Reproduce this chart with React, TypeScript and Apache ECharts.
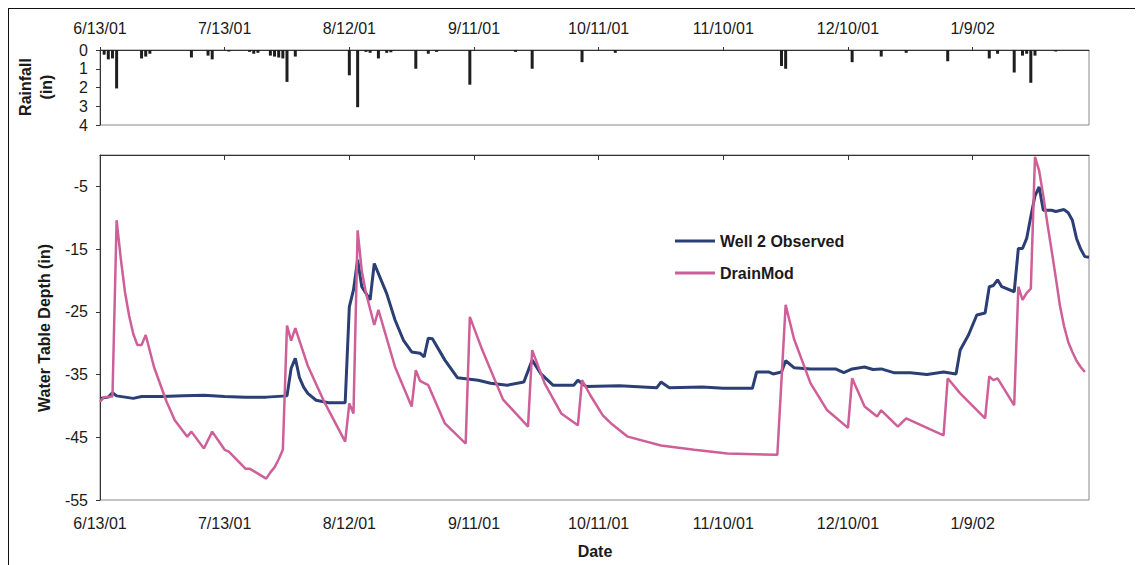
import React, { useEffect, useRef } from "react";
import * as echarts from "echarts";

// Days counted from 6/13/01
const dateTickDays = [0, 30, 60, 90, 120, 150, 180, 210];
const dateTickLabels = ["6/13/01", "7/13/01", "8/12/01", "9/11/01", "10/11/01", "11/10/01", "12/10/01", "1/9/02"];
const depthTicks = [-55, -45, -35, -25, -15, -5];
const rainTicks = [0, 1, 2, 3, 4];

// Daily rainfall (in) as [day, depth]
const rainfall: [number, number][] = [
  [1, 0.25], [2, 0.5], [3, 0.45], [4, 2.05], [10, 0.45], [11, 0.35], [12, 0.2],
  [22, 0.4], [26, 0.3], [27, 0.5], [31, 0.08], [36, 0.1], [37, 0.2], [38, 0.15],
  [41, 0.3], [42, 0.35], [43, 0.4], [44, 0.45], [45, 1.7], [47, 0.35],
  [60, 1.35], [62, 3.05], [64, 0.1], [65, 0.15], [67, 0.45], [69, 0.15], [70, 0.12],
  [76, 1.0], [79, 0.2], [81, 0.1], [89, 1.85], [100, 0.1], [104, 1.0], [116, 0.65],
  [124, 0.15], [164, 0.85], [165, 1.0], [181, 0.65], [188, 0.35], [194, 0.15],
  [204, 0.6], [214, 0.45], [216, 0.2], [220, 1.2], [222, 0.3], [223, 0.2],
  [224, 1.75], [225, 0.3], [230, 0.08],
];

// Observed water table depth (in), Well 2
const wellObserved: [number, number][] = [
  [0, -38.8], [2, -38.6], [3, -37.9], [4, -38.4], [6, -38.6], [8, -38.8], [10, -38.5],
  [15, -38.5], [20, -38.4], [25, -38.3], [30, -38.5], [35, -38.6], [40, -38.6], [45, -38.4],
  [46, -34.0], [47, -32.4], [48, -35.5], [49, -37.0], [50, -38.0], [52, -39.1], [55, -39.5],
  [59, -39.5], [60, -24.2], [61, -21.5], [62, -16.7], [63, -21.0], [65, -23.1], [66, -17.3],
  [69, -22.1], [71, -26.3], [73, -29.5], [75, -31.4], [77, -31.6], [78, -32.2], [79, -29.2],
  [80, -29.3], [83, -32.7], [86, -35.5], [91, -35.9], [94, -36.4], [98, -36.7], [102, -36.2],
  [104, -32.7], [106, -34.8], [109, -36.7], [114, -36.7], [115, -35.9], [117, -36.9],
  [125, -36.8], [134, -37.1], [135, -36.2], [137, -37.1], [145, -37.0], [150, -37.2],
  [157, -37.2], [158, -34.6], [161, -34.6], [162, -34.9], [164, -34.6], [165, -32.8],
  [167, -33.9], [171, -34.1], [177, -34.1], [179, -34.7], [181, -34.1], [184, -33.8],
  [186, -34.2], [188, -34.1], [191, -34.7], [195, -34.7], [199, -35.0], [203, -34.6],
  [206, -34.9], [207, -31.1], [209, -28.7], [210, -27.1], [211, -25.5], [213, -25.2],
  [214, -21.0], [215, -20.8], [216, -19.9], [217, -21.0], [220, -21.8], [221, -14.9],
  [222, -14.9], [223, -13.3], [224, -9.8], [225, -6.5], [226, -5.1], [227, -8.8],
  [229, -8.8], [230, -9.0], [232, -8.7], [233, -9.2], [234, -10.4], [235, -13.3],
  [236, -15.0], [237, -16.2], [238, -16.3],
];

// DrainMod simulated water table depth (in)
const drainMod: [number, number][] = [
  [0, -39.3], [1, -38.6], [3, -38.5], [4, -10.4], [5, -16.5], [6, -21.8], [7, -25.6],
  [8, -28.5], [9, -30.3], [10, -30.3], [11, -28.7], [13, -33.8], [16, -39.3], [18, -42.3],
  [21, -44.9], [22, -44.1], [25, -46.8], [27, -44.1], [30, -47.0], [31, -47.3], [35, -50.0],
  [36, -50.0], [40, -51.6], [41, -50.6], [42, -49.8], [43, -48.5], [44, -47.0], [45, -27.2],
  [46, -29.6], [47, -27.6], [50, -33.6], [54, -39.4], [59, -45.7], [60, -39.6], [61, -41.2],
  [62, -12.0], [63, -18.5], [64, -22.0], [66, -27.1], [67, -24.7], [71, -33.8], [75, -40.1],
  [76, -34.3], [77, -36.0], [79, -36.7], [83, -42.8], [88, -46.0], [89, -25.8], [92, -31.1],
  [97, -39.0], [103, -43.3], [104, -31.1], [107, -36.4], [111, -41.2], [115, -43.1],
  [116, -35.9], [118, -38.3], [121, -41.5], [123, -42.8], [127, -44.9], [135, -46.3],
  [143, -47.0], [151, -47.6], [163, -47.8], [165, -23.9], [167, -29.3], [171, -36.4],
  [175, -40.7], [180, -43.5], [181, -35.6], [184, -40.1], [187, -41.7], [188, -40.7],
  [192, -43.3], [194, -42.0], [203, -44.7], [204, -35.6], [207, -38.0], [213, -42.0],
  [214, -35.3], [215, -35.9], [216, -35.6], [220, -39.9], [221, -21.0], [222, -23.1],
  [223, -22.0], [224, -21.3], [225, -0.3], [226, -2.5], [227, -6.5], [228, -11.0],
  [229, -15.2], [230, -19.5], [231, -24.0], [232, -27.3], [233, -29.8], [234, -31.4],
  [235, -32.8], [236, -33.8], [237, -34.6],
];

const FONT = "'Liberation Sans', Arial, sans-serif";
const TEXT = "#1a1a1a";
const AXIS = "#333";
const BORDER = "#8a8a8a";
const BLUE = "#2b3f74";
const PINK = "#cf5f98";

const dateLabel = (v: number) => {
  const i = dateTickDays.indexOf(v);
  return i >= 0 ? dateTickLabels[i] : "";
};

export default function App() {
  const ref = useRef<HTMLDivElement>(null);

  useEffect(() => {
    if (!ref.current) return;
    const chart = echarts.init(ref.current, null, { renderer: "svg" });
    const tickLabel = { color: TEXT, fontFamily: FONT, fontSize: 16 };

    chart.setOption({
      animation: false,
      backgroundColor: "#fff",
      grid: [
        { left: 91, top: 41, width: 989, height: 75, show: true, borderColor: BORDER, borderWidth: 1 },
        { left: 91, top: 146, width: 989, height: 345, show: true, borderColor: BORDER, borderWidth: 1 },
      ],
      xAxis: [
        {
          gridIndex: 0, type: "value", position: "top", min: 0, max: 238,
          axisLine: { show: true, lineStyle: { color: AXIS, width: 1 } },
          axisTick: { show: true, length: 3, customValues: dateTickDays, lineStyle: { color: AXIS } },
          axisLabel: { ...tickLabel, margin: 14, customValues: dateTickDays, formatter: dateLabel },
          splitLine: { show: false },
        },
        {
          gridIndex: 1, type: "value", position: "bottom", min: 0, max: 238,
          axisLine: { show: true, lineStyle: { color: AXIS, width: 1 } },
          axisTick: { show: true, length: 5, customValues: dateTickDays, lineStyle: { color: AXIS } },
          axisLabel: { ...tickLabel, margin: 15, customValues: dateTickDays, formatter: dateLabel },
          splitLine: { show: false },
        },
      ],
      yAxis: [
        {
          gridIndex: 0, type: "value", inverse: true, min: 0, max: 4, interval: 1,
          axisLine: { show: true, lineStyle: { color: AXIS, width: 1 } },
          axisTick: { show: true, length: 4, lineStyle: { color: AXIS } },
          axisLabel: { ...tickLabel, margin: 12, customValues: rainTicks },
          splitLine: { show: false },
        },
        {
          gridIndex: 1, type: "value", min: -55, max: 0,
          axisLine: { show: true, lineStyle: { color: AXIS, width: 1 } },
          axisTick: { show: true, length: 4, customValues: depthTicks, lineStyle: { color: AXIS } },
          axisLabel: { ...tickLabel, margin: 12, customValues: depthTicks },
          splitLine: { show: false },
        },
      ],
      legend: {
        data: ["Well 2 Observed", "DrainMod"],
        orient: "vertical",
        left: 661,
        top: 219,
        icon: "rect",
        itemWidth: 40,
        itemHeight: 3,
        itemGap: 16,
        textStyle: { color: TEXT, fontFamily: FONT, fontSize: 16, fontWeight: "bold" },
      },
      series: [
        {
          name: "Rainfall",
          type: "bar",
          xAxisIndex: 0,
          yAxisIndex: 0,
          data: rainfall,
          barWidth: 3,
          itemStyle: { color: "#1e1e1e" },
        },
        {
          name: "Well 2 Observed",
          type: "line",
          xAxisIndex: 1,
          yAxisIndex: 1,
          data: wellObserved,
          showSymbol: false,
          lineStyle: { color: BLUE, width: 3 },
          itemStyle: { color: BLUE },
          z: 3,
        },
        {
          name: "DrainMod",
          type: "line",
          xAxisIndex: 1,
          yAxisIndex: 1,
          data: drainMod,
          showSymbol: false,
          lineStyle: { color: PINK, width: 2.5 },
          itemStyle: { color: PINK },
          z: 4,
        },
      ],
      graphic: [
        {
          type: "text", x: 27, y: 78, rotation: Math.PI / 2,
          style: {
            text: "Rainfall\n(in)", fill: TEXT, font: `bold 16px ${FONT}`,
            align: "center", verticalAlign: "middle", lineHeight: 21,
          },
        },
        {
          type: "text", x: 35, y: 319, rotation: Math.PI / 2,
          style: {
            text: "Water Table Depth (in)", fill: TEXT, font: `bold 16px ${FONT}`,
            align: "center", verticalAlign: "middle",
          },
        },
        {
          type: "text", x: 586, y: 542,
          style: {
            text: "Date", fill: TEXT, font: `bold 16px ${FONT}`,
            align: "center", verticalAlign: "middle",
          },
        },
      ],
    });

    return () => chart.dispose();
  }, []);

  return (
    <div
      ref={ref}
      style={{
        width: 1134,
        height: 556,
        marginLeft: -1,
        marginTop: -1,
        borderLeft: "2px solid #111",
        borderTop: "2px solid #111",
        background: "#fff",
      }}
    />
  );
}
